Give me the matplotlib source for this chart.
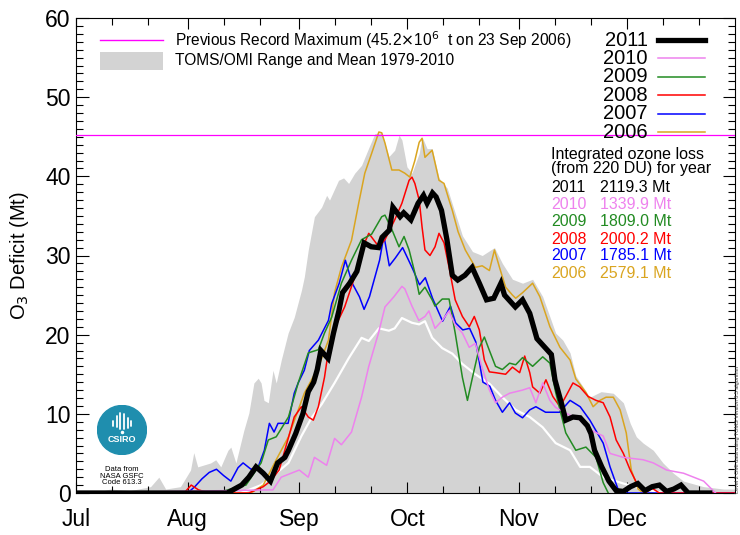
import matplotlib
matplotlib.use("Agg")
import matplotlib.pyplot as plt
from matplotlib.patches import Circle, Rectangle
from matplotlib.lines import Line2D
import numpy as np

plt.rcParams['font.family'] = ['Liberation Sans', 'DejaVu Sans']

# day of year (2011: Jul 1 = 182) and ozone deficit in Mt
grey_max = [(182, 0), (187, 0), (191.5, 0.5), (197, 0.3), (202.7, 0.8), (205, 2.0), (206.9, 0.5),
            (211, 0.8), (213.8, 2.9), (214.7, 5.1), (215.8, 3.3), (219.4, 3.8), (220.8, 4.2),
            (222.2, 3.3), (224.2, 5.4), (225, 5.8), (226.4, 3.8), (228.6, 7.9), (230, 10.1),
            (231.4, 13.9), (232.6, 14.5), (233.4, 13.9), (234.2, 11.7), (235.4, 11.4),
            (236.7, 15.5), (237.6, 13.9), (239, 16.8), (240.9, 20.2), (242.6, 22.2), (244.6, 25.6),
            (245.4, 27.3), (246.5, 30.7), (248.2, 34.9), (250.2, 36.1), (251.6, 37.6), (252.4, 37.0),
            (254.9, 39.5), (256.3, 39.8), (257.7, 39.1), (259.4, 40.4), (261.3, 41.4), (263.3, 43.6),
            (265, 45.4), (266.9, 45.5), (268.9, 42.5), (270.5, 43.3), (271.7, 45.2), (272.5, 44.6),
            (273.9, 41.2), (275.3, 40.4), (277.3, 42.9), (278.1, 45.0), (279.5, 43.5), (280.9, 43.5),
            (282.8, 39.8), (285.1, 38.5), (286.5, 36.5), (289.3, 32.5), (292.1, 30.5), (294.8, 30.0),
            (298.2, 31.0), (300.4, 29.0), (303.2, 27.0), (306, 26.5), (308.8, 27.0), (311.6, 24.8),
            (315.2, 20.2), (317.2, 19.3), (319.2, 17.7), (320.8, 14.8), (324.7, 12.1), (327.8, 12.8),
            (331.2, 12.6), (334, 11.4), (335.9, 8.8), (337.6, 7.1), (339.5, 6.3), (342.3, 5.4),
            (345, 3.8), (347.9, 2.5), (350.7, 1.5), (356.3, 0.8), (361.9, 0.5), (365, 0.5)]

mean_79_10 = [(227.8, 0), (233.4, 1.0), (237.6, 2.5), (241, 3.8), (244.6, 7.2), (247.4, 9.5),
              (250.2, 11.2), (253.8, 13.9), (257.7, 17.0), (261.3, 19.6), (263.3, 19.2),
              (266.1, 20.8), (268.9, 20.5), (270.5, 20.8), (272.5, 22.1), (275.3, 21.5),
              (277.3, 21.3), (278.9, 21.7), (280.9, 19.6), (283.7, 18.3), (286.5, 17.6),
              (289.3, 16.3), (292.9, 15.0), (296.8, 13.8), (300.4, 12.1), (304.1, 10.5), (308, 9.6),
              (311.6, 8.3), (315.2, 6.3), (319.2, 5.4), (322, 3.3), (324.7, 3.3), (328.4, 2.0),
              (334, 1.2), (339.5, 0.5), (345, 0)]

y2011 = [(182, 0), (224, 0), (226, 0.5), (228, 1.0), (230, 2.0), (232, 3.3), (234, 2.5), (236, 1.5),
         (238, 3.8), (240, 4.5), (241, 5.4), (243, 7.5), (245, 10.0), (246.5, 12.8), (248, 14.0),
         (249, 15.6), (250, 18.0), (252, 17.0), (253.5, 20.2), (255, 23.0), (256, 25.3), (258, 26.5),
         (260, 28.0), (262, 31.6), (264, 31.1), (266, 31.0), (267, 32.3), (269, 33.2), (270, 36.1),
         (272, 34.9), (273, 35.4), (275, 34.5), (277, 36.6), (278.5, 37.6), (279.5, 36.6), (281, 37.9),
         (282, 37.4), (283.5, 35.7), (285, 32.0), (286.5, 27.5), (288, 26.9), (290, 27.5), (292, 28.5),
         (294, 26.5), (296, 24.4), (298, 24.6), (300, 26.5), (301, 25.0), (304, 23.5), (306, 24.4),
         (308, 22.7), (310, 19.5), (312, 18.5), (314, 17.5), (315, 14.3), (317, 11.0), (318, 9.2),
         (320, 9.6), (322, 9.5), (324, 8.5), (325, 7.5), (326, 5.4), (328, 3.3), (330, 1.5), (332, 0.3),
         (334, 0.2), (336, 0.8), (338, 1.2), (340, 0.3), (342, 0.8), (344, 1.0), (346, 0.2), (348, 0.5),
         (350, 1.0), (352, 0), (358, 0)]

y2010 = [(182, 0), (236.7, 0.4), (239, 2.0), (244, 2.9), (246.5, 2.0), (248.2, 4.5), (251.6, 3.5),
         (253.8, 6.9), (255.7, 6.1), (258.5, 7.7), (261.3, 12.1), (263.3, 16.0), (266, 20.2),
         (267.8, 23.5), (270.3, 24.8), (272.5, 26.1), (273.3, 25.8), (275.3, 23.6), (277.2, 21.8),
         (278.9, 22.3), (280, 23.0), (281.7, 20.8), (283.7, 21.8), (285.6, 23.0), (287.3, 21.2),
         (289.3, 20.2), (291.2, 18.4), (292.9, 18.9), (294.8, 15.8), (296.8, 13.0), (298.5, 11.4),
         (300.4, 12.1), (302.4, 12.6), (306, 13.0), (308, 13.3), (309.7, 11.4), (311.6, 13.9),
         (313.6, 11.7), (315.2, 10.8), (318, 10.1), (322, 9.2), (324.7, 8.0), (328.4, 7.2),
         (330.3, 5.0), (334, 4.5), (339.5, 4.2), (342.3, 3.8), (346, 2.9), (350.7, 2.5),
         (356.3, 1.5), (359.6, 0)]

y2009 = [(182, 0), (220.8, 0), (225, 0.5), (229.2, 1.0), (233.4, 3.8), (235.4, 6.7), (237.6, 7.1),
         (241, 9.6), (243.7, 13.9), (246.5, 17.7), (249.3, 18.1), (251, 20.2), (253, 22.2),
         (255.7, 26.5), (258.5, 29.4), (261.3, 32.0), (264.1, 32.7), (266.9, 34.9), (267.8, 35.1),
         (269.7, 33.3), (271.7, 31.1), (273.1, 32.4), (274.5, 30.7), (276.1, 27.8), (277.3, 25.1),
         (278.9, 26.0), (280.9, 24.4), (281.7, 23.6), (283.7, 24.5), (285.6, 24.5), (287.3, 20.2),
         (289.3, 14.6), (290.7, 11.7), (292.1, 14.6), (294, 18.4), (295.4, 19.7), (296.8, 18.0),
         (298.5, 16.0), (300.4, 15.6), (302.4, 16.4), (304.1, 16.2), (306, 17.1), (308.8, 16.0),
         (311.6, 17.2), (313.6, 16.4), (315.2, 12.7), (318, 7.6), (320.8, 5.4), (323.6, 5.8),
         (326.4, 4.5), (328.4, 1.3), (329.8, 0)]

y2008 = [(182, 0), (212, 0), (214, 1.0), (216, 0.4), (219, 0), (230, 0), (234, 0.8), (236, 1.5),
         (238.4, 2.9), (241, 7.0), (242.6, 9.6), (244.6, 10.9), (246.5, 9.6), (247.9, 9.2),
         (249.3, 10.9), (251, 14.6), (252.1, 18.0), (253.8, 20.8), (256.6, 23.5), (259.4, 27.3),
         (261.3, 30.7), (263.3, 32.8), (266.1, 31.1), (267.8, 32.0), (270.5, 34.5), (272.5, 36.6),
         (274.5, 39.5), (275.3, 39.9), (276.1, 39.1), (277.3, 37.0), (278.1, 33.6), (278.9, 30.7),
         (280.3, 30.0), (281.7, 31.1), (282.8, 32.8), (284.2, 31.6), (285.6, 28.5), (287.3, 24.4),
         (289.3, 22.3), (291.2, 21.0), (292.6, 22.3), (294, 20.6), (295.4, 16.8), (296.8, 15.3),
         (298.5, 15.2), (301.3, 15.0), (303.2, 15.9), (305.2, 15.2), (306.6, 17.3), (308, 15.2),
         (308.8, 13.4), (310.8, 12.6), (312.5, 14.3), (314.4, 12.2), (316.4, 10.9), (318, 12.2),
         (320, 13.9), (321.9, 13.4), (324.2, 12.2), (326.4, 11.7), (328.4, 11.4), (330.3, 9.6),
         (332, 6.7), (334, 5.0), (335.9, 2.9), (338, 1.0), (340, 0), (342, 0.6), (344, 0), (365, 0)]

y2007 = [(182, 0), (213, 0), (215, 0.8), (217, 1.8), (219, 2.6), (221, 3.0), (223, 2.2), (225, 1.5),
         (227, 3.2), (228.4, 3.8), (230.6, 3.0), (232.6, 3.3), (234.3, 5.4), (235.7, 8.8), (237, 7.7),
         (238.1, 8.8), (240.9, 8.8), (242.6, 12.6), (243.7, 13.9), (245.4, 15.5), (246.8, 18.0),
         (249.3, 19.3), (252.1, 21.8), (253, 23.9), (255.1, 26.5), (256.8, 29.4), (258.7, 26.5),
         (260.7, 24.8), (262, 23.2), (263.5, 24.8), (266.3, 29.4), (267.5, 32.5), (269, 28.7),
         (270.7, 29.7), (272.7, 31.0), (275.4, 28.4), (277.4, 26.3), (279, 27.2), (281, 24.6),
         (283.8, 21.7), (286, 23.6), (287.4, 21.5), (289.4, 20.6), (291.3, 20.8), (293, 19.1),
         (295, 14.0), (296.9, 13.5), (298.5, 11.7), (300.4, 10.2), (302.4, 11.4), (304, 10.1),
         (306, 9.5), (308, 10.5), (309.7, 10.9), (312.4, 10.2), (316.3, 10.2), (319.2, 11.7),
         (322, 10.9), (324.7, 9.2), (328.4, 6.3), (330.3, 3.3), (332.5, 0.5), (334, 0), (365, 0)]

y2006 = [(182, 0), (230.6, 0), (234, 1.0), (237.6, 4.2), (241, 7.1), (245.4, 12.6), (249.3, 15.9),
         (252.1, 19.3), (253.8, 25.3), (255.7, 28.5), (258.5, 31.9), (260.5, 36.6), (262.2, 40.4),
         (264.1, 42.9), (266.1, 45.6), (266.9, 45.5), (267.8, 44.2), (269.7, 40.8), (271.7, 40.8),
         (273.3, 40.4), (274.7, 39.9), (276.1, 42.0), (277.3, 44.3), (278.1, 44.8), (278.9, 42.4),
         (280.9, 43.3), (282.8, 39.5), (284.2, 39.1), (285.6, 37.0), (286.5, 35.7), (288.1, 33.0),
         (290.1, 30.7), (292.9, 28.5), (294.8, 28.7), (296.8, 28.1), (298.2, 30.7), (299.6, 28.5),
         (301.3, 26.0), (303.2, 25.0), (304.1, 24.6), (306, 25.3), (308.8, 26.5), (310.8, 24.8),
         (313.6, 21.0), (316.4, 18.4), (319.2, 16.8), (320.8, 14.4), (323.6, 12.7), (325.6, 10.9),
         (327.5, 11.7), (329.2, 12.1), (331.2, 12.1), (333.1, 10.5), (334.8, 7.6), (336.2, 2.9),
         (338.1, 0.5), (339.5, 0)]

years = ['2011', '2010', '2009', '2008', '2007', '2006']
colors = ['black', 'violet', 'forestgreen', 'red', 'blue', 'goldenrod']
series = [y2011, y2010, y2009, y2008, y2007, y2006]
totals = ['2119.3', '1339.9', '1809.0', '2000.2', '1785.1', '2579.1']

record_max = 45.2
month_days = [182, 213, 244, 274, 305, 335]
month_names = ['Jul', 'Aug', 'Sep', 'Oct', 'Nov', 'Dec']

W, H = 740, 535
fig = plt.figure(figsize=(W / 100, H / 100), dpi=100)
ax = fig.add_axes([76 / W, 1 - 493 / H, (735 - 76) / W, (493 - 18) / H])

g = np.array(grey_max)
ax.fill_between(g[:, 0], 0, g[:, 1], color='lightgrey', lw=0, zorder=1)
m = np.array(mean_79_10)
ax.plot(m[:, 0], m[:, 1], color='white', lw=1.6, zorder=2)

for yr, c, s in list(zip(years, colors, series))[::-1]:
    a = np.array(s)
    if yr == '2011':
        ax.plot(a[:, 0], a[:, 1], color=c, lw=3.8, zorder=4, solid_joinstyle='miter')
    else:
        ax.plot(a[:, 0], a[:, 1], color=c, lw=1.1, zorder=3)

ax.axhline(record_max, color='magenta', lw=0.9, zorder=5)

ax.set_xlim(182, 365)
ax.set_ylim(0, 60)
ax.set_xticks(month_days)
ax.set_xticklabels(month_names, fontsize=16.5)
ax.set_xticks([d + o for d in month_days for o in (10, 20)], minor=True)
ax.set_yticks(range(0, 61, 10))
ax.set_yticks(range(0, 61, 1), minor=True)
ax.tick_params(axis='both', which='both', direction='in', top=True, right=True, width=0.8)
ax.tick_params(axis='y', which='major', length=9, labelsize=16.5, pad=4)
ax.tick_params(axis='y', which='minor', length=5)
ax.tick_params(axis='x', which='major', length=8, pad=11)
ax.tick_params(axis='x', which='minor', length=5)
for sp in ax.spines.values():
    sp.set_linewidth(0.8)

fig.text(20 / W, 1 - 256 / H, 'O$_3$ Deficit (Mt)', rotation=90, ha='center', va='center',
         fontsize=14.5)

# upper-left legend
fig.add_artist(Line2D([100 / W, 163 / W], [1 - 40 / H, 1 - 40 / H], color='magenta', lw=1.0))
fig.text(175 / W, 1 - 40 / H, 'Previous Record Maximum (45.2$\\times$10$^6$  t on 23 Sep 2006)',
         fontsize=11.2, va='center')
fig.add_artist(Rectangle((100 / W, 1 - 70 / H), 63 / W, 18 / H, color='lightgrey', lw=0,
                         transform=fig.transFigure))
fig.text(175 / W, 1 - 61 / H, 'TOMS/OMI Range and Mean 1979-2010', fontsize=11.2, va='center')

# year legend
for i, (yr, c) in enumerate(zip(years, colors)):
    yy = 1 - (40 + i * 18.4) / H
    fig.text(648 / W, yy, yr, fontsize=14.5, ha='right', va='center')
    fig.add_artist(Line2D([658 / W, 705 / W], [yy, yy], color=c,
                          lw=3.8 if yr == '2011' else 1.1))

# integrated loss table
fig.text(551 / W, 1 - 155 / H, 'Integrated ozone loss', fontsize=11.5, va='center')
fig.text(551 / W, 1 - 169 / H, '(from 220 DU) for year', fontsize=11.5, va='center')
for i, (yr, c, t) in enumerate(zip(years, colors, totals)):
    yy = 1 - (188 + i * 17) / H
    fig.text(551 / W, yy, yr, fontsize=11.5, color=c, va='center')
    fig.text(600 / W, yy, t + ' Mt', fontsize=11.5, color=c, va='center')

# CSIRO logo
lax = fig.add_axes([97 / W, 1 - 455 / H, 50 / W, 50 / H])
lax.set_xlim(-1, 1)
lax.set_ylim(-1, 1)
lax.set_aspect('equal')
lax.axis('off')
lax.add_patch(Circle((0, 0), 0.98, color='#1f8eae'))
for bx, top, bot in [(-0.36, 0.38, 0.18), (-0.22, 0.55, 0.12), (-0.08, 0.68, 0.05),
                     (0.08, 0.66, 0.05), (0.22, 0.5, 0.1), (0.36, 0.36, 0.18)]:
    lax.plot([bx, bx], [bot, top], color='white', lw=1.3, solid_capstyle='round')
lax.plot([0], [-0.08], 'o', color='white', ms=1.5)
lax.text(0, -0.4, 'CSIRO', color='white', fontsize=6.5, fontweight='bold', ha='center',
         va='center')
fig.text(122 / W, 1 - 476 / H, 'Data from\nNASA GSFC\nCode 613.3', fontsize=5.5, ha='center',
         va='center', linespacing=0.9)

fig.text(737 / W, 1 - 493 / H, 'Level 2 OMI data using TOMS Version 8.5 algorithm', fontsize=4,
         rotation=90, ha='center', va='bottom', color='#444444')

fig.savefig('out.png', dpi=100)
